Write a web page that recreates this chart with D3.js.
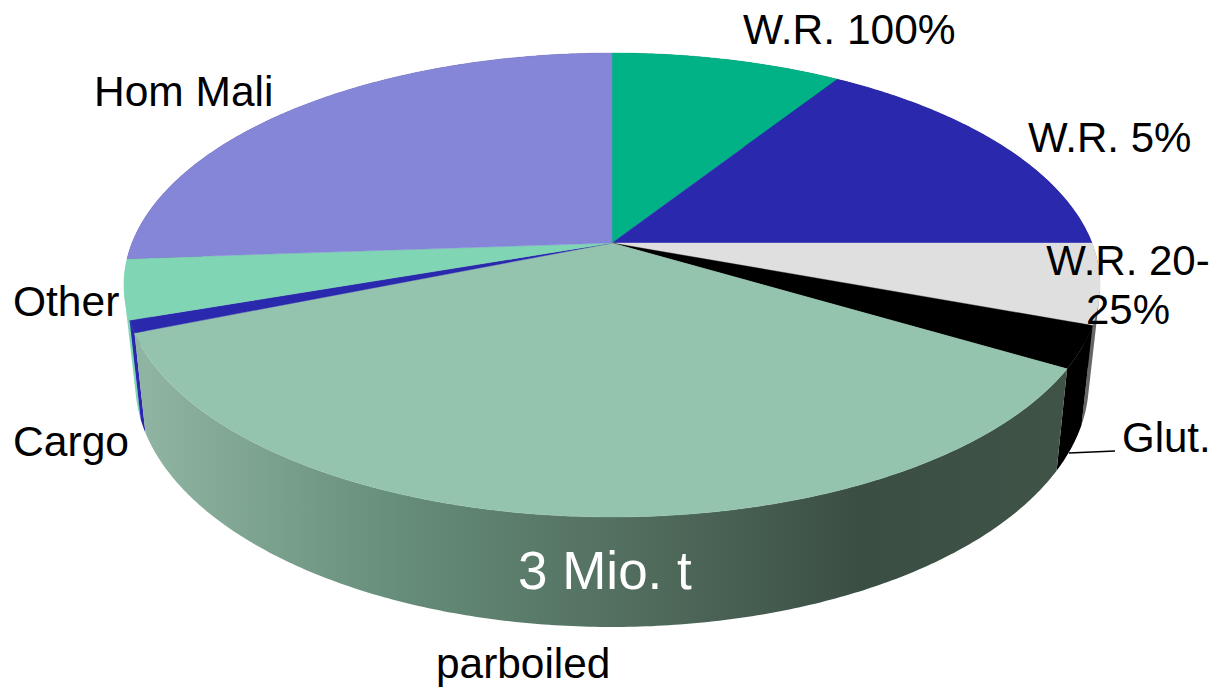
<!DOCTYPE html>
<html>
<head>
<meta charset="utf-8">
<script src="https://cdn.jsdelivr.net/npm/d3@7"></script>
<style>
  html, body { margin: 0; padding: 0; background: #fff; }
  svg { display: block; }
  text { font-family: "Liberation Sans", Arial, sans-serif; }
</style>
</head>
<body>
<svg id="chart" width="1213" height="687"></svg>
<script>
// Thai rice export shares by grade, clockwise from twelve o'clock
const categories = ["W.R. 100%", "W.R. 5%", "W.R. 20-25%", "Glut.", "parboiled", "Cargo", "Other", "Hom Mali"];
const shares = [9.1, 15.9, 5.6, 2.9, 35.4, 0.85, 4.15, 26.1];
const topColors = ["#00b286", "#2a28ad", "#dfdfdf", "#000000", "#95c4ae", "#2a28ad", "#80d6b4", "#8686d8"];
const sideColors = ["#00604a", "#17165e", "#666666", "#000000", "url(#parboiledSide)", "#2a28ad", "#80d6b4", "#484875"];

// Text placed around the pie: [text, x, baseline, size, colour]
const labels = [
  ["W.R. 100%", 743, 44, 42.5, "#000"],
  ["W.R. 5%", 1028, 152, 42, "#000"],
  ["Hom Mali", 94, 106, 42.5, "#000"],
  ["Other", 13, 316, 42.5, "#000"],
  ["Cargo", 13, 456, 42.6, "#000"],
  ["Glut.", 1122, 452, 42, "#000"],
  ["parboiled", 436, 678, 42.4, "#000"],
  ["3 Mio. t", 518, 589, 53, "#fff"]
];

const sideStops = [
  [146, "#8fb5a2"], [400, "#668d7a"], [640, "#516c5d"], [760, "#455c50"], [860, "#3b4e43"], [1056, "#3f5347"]
];

const svg = d3.select("#chart");

// Perspective disc: a homography takes the unit circle onto the top face,
// so the pie centre sits above the ellipse centre as seen in a tilted view.
const cx = 612, radius = 480, persp = -0.181, yGain = 180.4, yCentre = 243;
const topPoint = a => {
  const u = Math.sin(a), v = -Math.cos(a), w = 1 + persp * v;
  return [cx + radius * u / w, (yGain * v + yCentre) / w];
};
// The lower rim is the same curve drawn slightly narrower and lower down.
const rimY = d3.scaleLinear().domain([335, 517]).range([435, 627]);
const rimPoint = a => {
  const p = topPoint(a);
  return [cx + (p[0] - cx) * 0.977, rimY(p[1])];
};

const arcAngles = (a0, a1) => {
  const n = Math.max(2, Math.ceil((a1 - a0) / 0.01));
  return d3.range(n + 1).map(i => a0 + (a1 - a0) * i / n);
};
const path = d3.line();

const pie = d3.pie().sort(null).value(d => d.share);
const slices = pie(categories.map((name, i) => ({
  name, share: shares[i], top: topColors[i], side: sideColors[i]
})));

const grad = svg.append("defs").append("linearGradient")
  .attr("id", "parboiledSide")
  .attr("gradientUnits", "userSpaceOnUse")
  .attr("x1", 146).attr("x2", 1056).attr("y1", 0).attr("y2", 0);
const x0 = sideStops[0][0], x1 = sideStops[sideStops.length - 1][0];
grad.selectAll("stop").data(sideStops).join("stop")
  .attr("offset", d => (d[0] - x0) / (x1 - x0))
  .attr("stop-color", d => d[1]);

// Wall of a slice as a run of small quads wound the same way, so the
// fill also covers the silhouette where the wall turns out of view.
const wallPath = d => {
  const as = arcAngles(d.startAngle, d.endAngle);
  return d3.pairs(as).map(([a, b]) => {
    const quad = [topPoint(a), topPoint(b), rimPoint(b), rimPoint(a)];
    if (d3.polygonArea(quad) < 0) quad.reverse();
    return path(quad) + "Z";
  }).join("");
};

// Walls painted far to near: the slice facing the viewer goes on last
const frontness = d => Math.abs((d.startAngle + d.endAngle) / 2 - Math.PI);
const wallOrder = slices.slice().sort((a, b) => d3.descending(frontness(a), frontness(b)));
svg.append("g").selectAll("path").data(wallOrder).join("path")
  .attr("d", wallPath)
  .attr("fill", d => d.data.side);

// Top faces
svg.append("g").selectAll("path").data(slices).join("path")
  .attr("d", d => path([[cx, yCentre]].concat(arcAngles(d.startAngle, d.endAngle).map(topPoint))) + "Z")
  .attr("fill", d => d.data.top)
  .attr("stroke", d => d.data.top)
  .attr("stroke-width", 0.4);

// Leader from the glutinous slice to its label
svg.append("line")
  .attr("x1", 1069).attr("y1", 453).attr("x2", 1115).attr("y2", 451)
  .attr("stroke", "#000").attr("stroke-width", 1.5);

const textLayer = svg.append("g");
textLayer.selectAll("text.label").data(labels).join("text")
  .attr("class", "label")
  .attr("x", d => d[1]).attr("y", d => d[2])
  .attr("font-size", d => d[3])
  .attr("fill", d => d[4])
  .text(d => d[0]);

// The long grade name wraps onto two centred lines
const wrapped = textLayer.append("text").attr("font-size", 42).attr("fill", "#000").attr("text-anchor", "middle");
wrapped.append("tspan").attr("x", 1128).attr("y", 275).text("W.R. 20-");
wrapped.append("tspan").attr("x", 1128).attr("y", 324).text("25%");
</script>
</body>
</html>
